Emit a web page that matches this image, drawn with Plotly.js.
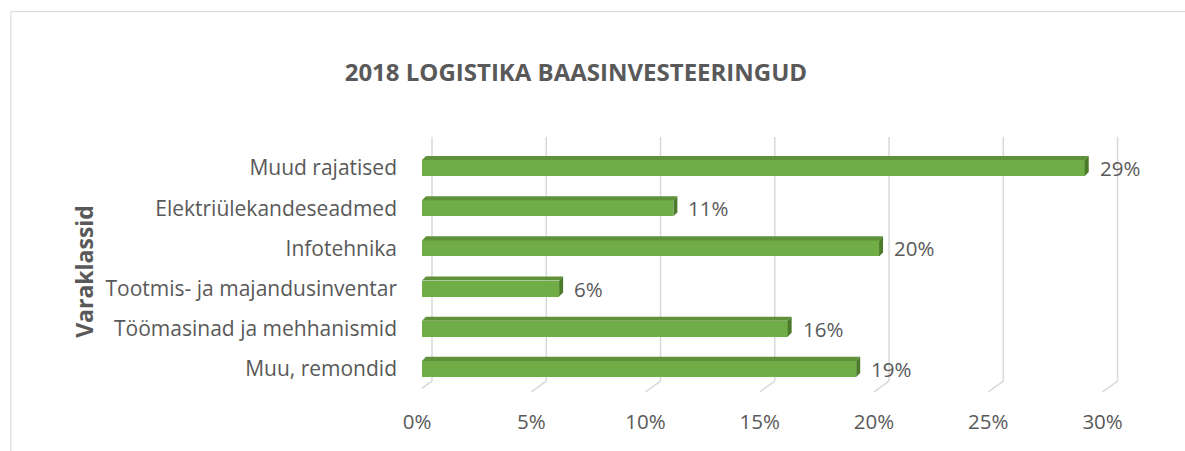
<!DOCTYPE html>
<html>
<head>
<meta charset="utf-8">
<script src="https://cdn.plot.ly/plotly-3.0.1.min.js"></script>
<style>
  html, body { margin: 0; padding: 0; background: #ffffff; }
  #chart { width: 1185px; height: 451px; }
</style>
</head>
<body>
<div id="chart"></div>
<script>
// ---- data ----
const categories = [
  "Muud rajatised",
  "Elektriülekandeseadmed",
  "Infotehnika",
  "Tootmis- ja majandusinventar",
  "Töömasinad ja mehhanismid",
  "Muu, remondid"
];
const shares = [0.29, 0.11, 0.20, 0.06, 0.16, 0.19];
const tickValues = [0, 0.05, 0.10, 0.15, 0.20, 0.25, 0.30];
const tickLabels = ["0%", "5%", "10%", "15%", "20%", "25%", "30%"];
const chartTitle = "2018 LOGISTIKA BAASINVESTEERINGUD";
const axisTitle = "Varaklassid";

// ---- style constants ----
const FONT = "'Open Sans', sans-serif";
const TEXT = "#595959";
const FRONT = "#70AD47";
const TOP = "#5E9139";
const SIDE = "#4A7A2A";
const GRID = "#D9D9D9";
const BAR_W = 0.4;      // bar thickness (category units)
const DEPTH_X = 0.00175; // 3D depth in x (value units)
const DEPTH_Y = 0.1;     // 3D depth in y (category units)

const pos = categories.map((c, i) => i);

const traces = [];
// front faces
traces.push({
  type: "bar",
  orientation: "h",
  x: shares,
  y: pos,
  width: BAR_W,
  marker: { color: FRONT, line: { width: 0 } },
  hoverinfo: "skip",
  showlegend: false
});
// top and side faces
shares.forEach((v, i) => {
  const yt = i - BAR_W / 2, yb = i + BAR_W / 2;
  traces.push({
    type: "scatter", mode: "lines", fill: "toself",
    x: [0, v, v + DEPTH_X, DEPTH_X, 0],
    y: [yt, yt, yt - DEPTH_Y, yt - DEPTH_Y, yt],
    fillcolor: TOP, line: { width: 0, color: TOP },
    hoverinfo: "skip", showlegend: false
  });
  traces.push({
    type: "scatter", mode: "lines", fill: "toself",
    x: [v, v + DEPTH_X, v + DEPTH_X, v, v],
    y: [yt, yt - DEPTH_Y, yb - DEPTH_Y, yb, yt],
    fillcolor: SIDE, line: { width: 0, color: SIDE },
    hoverinfo: "skip", showlegend: false
  });
});

// gridlines (3D wall style) built from tick values
const shapes = [];
const gTop = 1.046, gBottom = 0.033, gFoot = -0.012;
tickValues.forEach(v => {
  shapes.push({
    type: "line", layer: "below", xref: "x", yref: "paper",
    xsizemode: "pixel", xanchor: v, x0: 10, x1: 10,
    y0: gBottom, y1: gTop,
    line: { color: GRID, width: 1.5 }
  });
  shapes.push({
    type: "line", layer: "below", xref: "x", yref: "paper",
    xsizemode: "pixel", xanchor: v, x0: 10, x1: -5,
    y0: gBottom, y1: gFoot,
    line: { color: GRID, width: 1.5 }
  });
});
// chart border
shapes.push({
  type: "rect", layer: "below", xref: "paper", yref: "paper",
  x0: -0.59, x1: 1.2, y0: -0.4, y1: 1.566,
  line: { color: GRID, width: 1 }, fillcolor: "rgba(0,0,0,0)"
});

// data labels
const annotations = shares.map((v, i) => ({
  x: v, y: pos[i], xref: "x", yref: "y",
  text: Math.round(v * 100) + "%",
  showarrow: false, xanchor: "left", yanchor: "middle",
  xshift: 13,
  font: { family: FONT, size: 20.5, color: TEXT }
}));
annotations.push({
  text: "<b>" + axisTitle + "</b>",
  xref: "paper", yref: "paper",
  x: -0.485, y: 0.49, xanchor: "center", yanchor: "middle",
  textangle: -90, showarrow: false,
  font: { family: FONT, size: 23, color: TEXT }
});

const layout = {
  width: 1185, height: 451,
  margin: { l: 422, r: 65.5, t: 148, b: 62, pad: 0 },
  paper_bgcolor: "#ffffff",
  plot_bgcolor: "rgba(0,0,0,0)",
  title: {
    text: "<b>" + chartTitle + "</b>",
    xref: "paper", x: 0.2208, xanchor: "center",
    yref: "container", y: 0.838, yanchor: "middle",
    font: { family: FONT, size: 24, color: TEXT }
  },
  xaxis: {
    range: [0, 0.305],
    tickvals: tickValues,
    ticktext: tickLabels,
    showgrid: false, zeroline: false, showline: false,
    ticks: "",
    ticklabelshift: -5,
    ticklabelstandoff: 18,
    tickfont: { family: FONT, size: 20.5, color: TEXT },
    fixedrange: true
  },
  yaxis: {
    range: [5.5, -0.5],
    tickvals: pos,
    ticktext: categories,
    showgrid: false, zeroline: false, showline: false,
    ticks: "",
    ticklabelstandoff: 24,
    tickfont: { family: FONT, size: 21, color: TEXT },
    fixedrange: true
  },
  shapes: shapes,
  annotations: annotations,
  showlegend: false,
  bargap: 0
};

Plotly.newPlot("chart", traces, layout, { displayModeBar: false, staticPlot: true });
</script>
</body>
</html>
